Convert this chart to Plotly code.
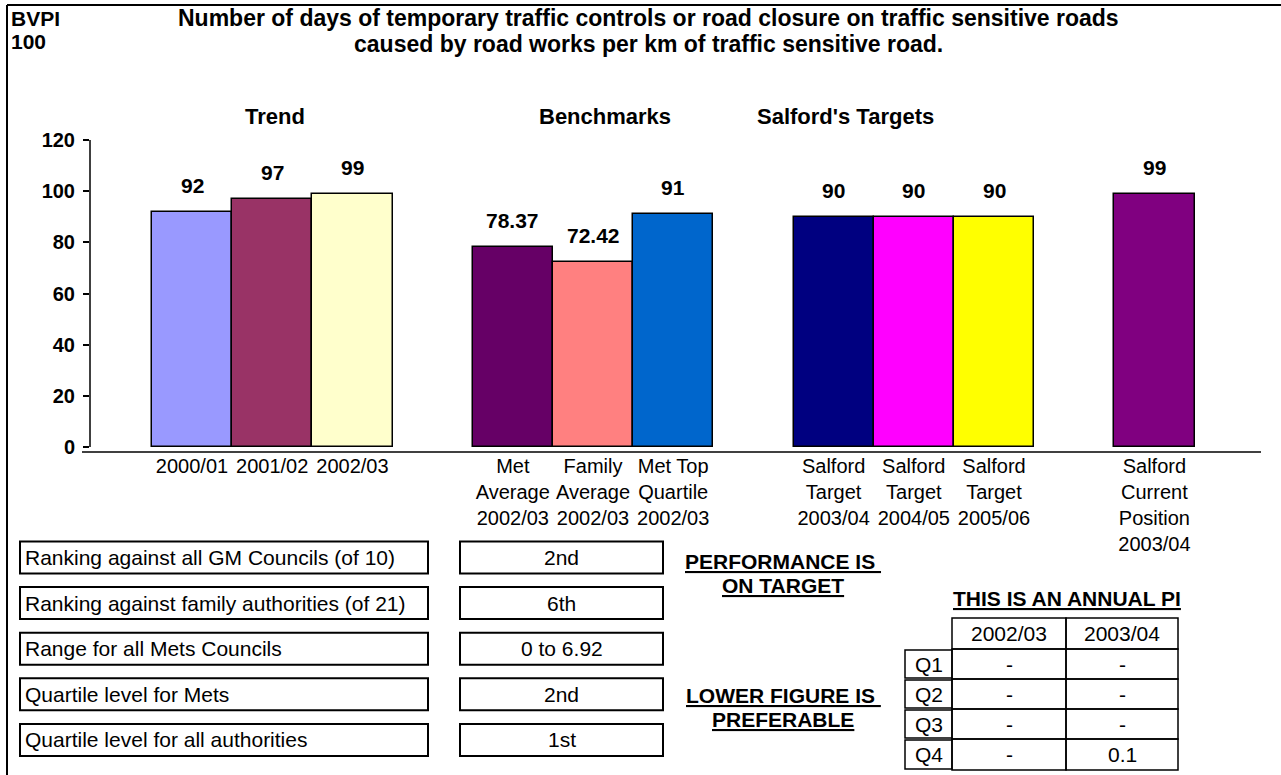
import plotly.graph_objects as go

# ---- data ----
categories = [
    "2000/01", "2001/02", "2002/03",
    "Met<br>Average<br>2002/03", "Family<br>Average<br>2002/03", "Met Top<br>Quartile<br>2002/03",
    "Salford<br>Target<br>2003/04", "Salford<br>Target<br>2004/05", "Salford<br>Target<br>2005/06",
    "Salford<br>Current<br>Position<br>2003/04",
]
slots = [0, 1, 2, 4, 5, 6, 8, 9, 10, 12]   # gaps between the groups
values = [92, 97, 99, 78.37, 72.42, 91, 90, 90, 90, 99]
bar_colors = ["#9999FF", "#993366", "#FFFFCC", "#660066", "#FF8080", "#0066CC",
              "#000080", "#FF00FF", "#FFFF00", "#800080"]

group_titles = ["Trend", "Benchmarks", "Salford's Targets"]
group_centres = [1.04, 5.15, 8.15]

y_ticks = [0, 20, 40, 60, 80, 100, 120]

info_labels = [
    "Ranking against all GM Councils (of 10)",
    "Ranking against family authorities (of 21)",
    "Range for all Mets Councils",
    "Quartile level for Mets",
    "Quartile level for all authorities",
]
info_values = ["2nd", "6th", "0 to 6.92", "2nd", "1st"]

table_cols = ["2002/03", "2003/04"]
table_rows = ["Q1", "Q2", "Q3", "Q4"]
table_vals = [["-", "-"], ["-", "-"], ["-", "-"], ["-", "0.1"]]

# ---- page geometry (pixels) ----
W, H = 1281, 775
L, R, T, B = 90, 1261, 140, 452
FONT = "Liberation Sans, Arial, sans-serif"


def px(x):
    return (x - L) / (R - L)


def py(y):
    return (B - y) / (B - T)


def note(x, y, text, size, xanchor="center", align="center"):
    return dict(x=px(x), y=py(y), xref="paper", yref="paper", text=text, showarrow=False,
                xanchor=xanchor, yanchor="middle", align=align,
                font=dict(size=size, color="black", family=FONT))


def box(x0, x1, y0, y1, w=2):
    return dict(type="rect", xref="paper", yref="paper", x0=px(x0), x1=px(x1),
                y0=py(y0), y1=py(y1), line=dict(color="black", width=w))


fig = go.Figure()

fig.add_trace(go.Bar(
    x=slots, y=values, width=1.0,
    marker=dict(color=bar_colors, line=dict(color="black", width=1.5)),
    hoverinfo="x+y", showlegend=False,
))

annotations = []
shapes = []

# value labels over the bars
for s, v in zip(slots, values):
    annotations.append(dict(
        x=s, y=v, xref="x", yref="y", text=f"<b>{v:g}</b>", showarrow=False,
        xanchor="center", yanchor="bottom", yshift=13,
        font=dict(size=21, color="black", family=FONT),
    ))

# group headings
for t, c in zip(group_titles, group_centres):
    annotations.append(dict(
        x=c, y=py(116), xref="x", yref="paper", text=f"<b>{t}</b>", showarrow=False,
        xanchor="center", yanchor="middle", font=dict(size=22, color="black", family=FONT),
    ))

# title block
annotations += [
    note(9, 18, "<b>BVPI</b>", 21, xanchor="left", align="left"),
    note(9, 41, "<b>100</b>", 21, xanchor="left", align="left"),
    note(648, 18, "<b>Number of days of temporary traffic controls or road closure on traffic sensitive roads</b>", 23),
    note(648, 44, "<b>caused by road works per km of traffic sensitive road.</b>", 23),
]

# y axis line (stops at zero) and x axis line (runs a little past it)
shapes.append(dict(type="line", xref="paper", yref="y", x0=0, x1=0, y0=0, y1=120,
                   line=dict(color="black", width=1.5)))
shapes.append(dict(type="line", xref="paper", yref="paper", x0=px(82), x1=1, y0=0, y1=0,
                   line=dict(color="black", width=1.5)))

# outer frame (top and left edges)
shapes.append(dict(type="line", xref="paper", yref="paper", x0=px(7), x1=px(1300),
                   y0=py(5), y1=py(5), line=dict(color="black", width=2)))
shapes.append(dict(type="line", xref="paper", yref="paper", x0=px(7), x1=px(7),
                   y0=py(5), y1=py(800), line=dict(color="black", width=2)))

# info boxes
for i, (lab, val) in enumerate(zip(info_labels, info_values)):
    yc = 557.5 + 45.6 * i
    shapes.append(box(20, 428, yc - 16, yc + 16))
    shapes.append(box(460, 663, yc - 16, yc + 16))
    annotations.append(note(23, yc, lab, 21, xanchor="left", align="left"))
    annotations.append(note(561.5, yc, val, 21))

# notes (each line placed separately to keep the tight line spacing)
annotations += [
    note(783, 561, "<b><u>PERFORMANCE IS </u></b>", 21),
    note(783, 585, "<b><u>ON TARGET</u></b>", 21),
    note(783, 695, "<b><u>LOWER FIGURE IS </u></b>", 21),
    note(783, 719, "<b><u>PREFERABLE</u></b>", 21),
    note(1067, 598, "<b><u>THIS IS AN ANNUAL PI</u></b>", 21),
]

# quarterly table
col_x = [905, 952, 1066, 1178]
row_y = [618, 649, 679, 709, 739, 770]
for j, c in enumerate(table_cols):
    shapes.append(box(col_x[j + 1], col_x[j + 2], row_y[0], row_y[1], 1.5))
    annotations.append(note((col_x[j + 1] + col_x[j + 2]) / 2, (row_y[0] + row_y[1]) / 2, c, 21))
for i, r in enumerate(table_rows):
    y0, y1 = row_y[i + 1], row_y[i + 2]
    shapes.append(box(col_x[0], col_x[1], y0 + 1, y1 - 1, 1.5))
    annotations.append(note((col_x[0] + col_x[1]) / 2, (y0 + y1) / 2, r, 21))
    for j in range(len(table_cols)):
        shapes.append(box(col_x[j + 1], col_x[j + 2], y0, y1, 1.5))
        annotations.append(note((col_x[j + 1] + col_x[j + 2]) / 2, (y0 + y1) / 2, table_vals[i][j], 21))

fig.update_layout(
    width=W, height=H,
    margin=dict(l=L, r=W - R, t=T, b=H - B, pad=0),
    paper_bgcolor="white", plot_bgcolor="white",
    bargap=0,
    annotations=annotations, shapes=shapes,
    font=dict(family=FONT, color="black"),
)
fig.update_xaxes(
    range=[(L - 192) / 80.2, (R - 192) / 80.2],
    tickmode="array", tickvals=slots, ticktext=categories,
    tickfont=dict(size=20, family=FONT, color="black"),
    showgrid=False, zeroline=False, showline=False, ticks="",
)
fig.update_yaxes(
    range=[-1.95, 120],
    tickmode="array", tickvals=y_ticks, ticktext=[f"<b>{t}</b>" for t in y_ticks],
    tickfont=dict(size=20, family=FONT, color="black"),
    ticks="outside", ticklen=6, tickwidth=1.5, tickcolor="black", ticklabelstandoff=4,
    showgrid=False, zeroline=False, showline=False,
)

# drop the default page margin so the figure sits at the window's corner
fig.write_html("out.html", config={"displayModeBar": False},
               post_script="document.body.style.margin='0px';")
